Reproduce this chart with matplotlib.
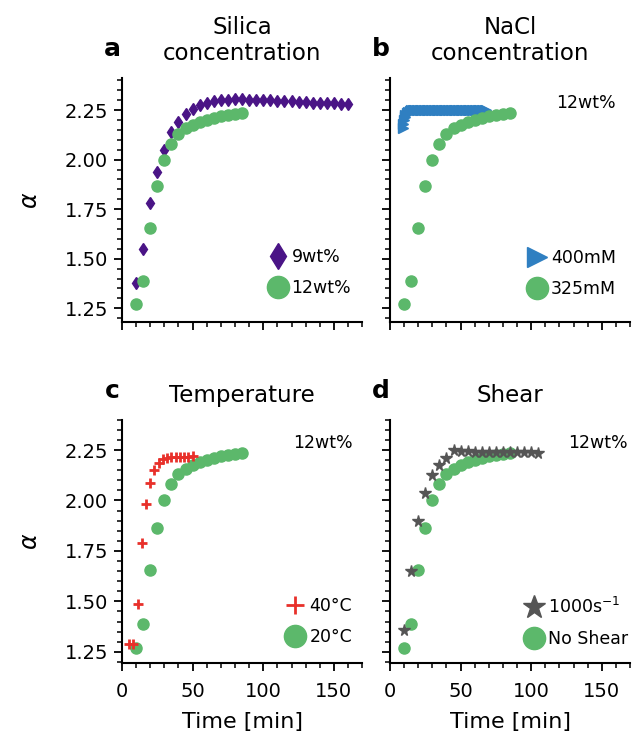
import matplotlib.pyplot as plt
from matplotlib.ticker import MultipleLocator

# reference sample: 12wt% silica, 325mM NaCl, 20°C, no shear
t_ref = [10, 15, 20, 25, 30, 35, 40, 45, 50, 55, 60, 65, 70, 75, 80, 85]
a_ref = [1.27, 1.39, 1.655, 1.865, 2.0, 2.08, 2.13, 2.158, 2.176, 2.19,
         2.201, 2.21, 2.218, 2.224, 2.229, 2.233]

# silica 9wt%
t_9wt = [10, 15, 20, 25, 30, 35, 40, 45, 50, 55, 60, 65, 70, 75, 80, 85, 90,
         95, 100, 105, 110, 115, 120, 125, 130, 135, 140, 145, 150, 155, 160]
a_9wt = [1.38, 1.55, 1.78, 1.94, 2.05, 2.14, 2.19, 2.23, 2.255, 2.275, 2.288,
         2.295, 2.30, 2.303, 2.304, 2.304, 2.303, 2.302, 2.30, 2.299, 2.297,
         2.295, 2.294, 2.292, 2.29, 2.288, 2.287, 2.285, 2.284, 2.282, 2.28]

# NaCl 400mM
t_400 = [9, 9.5, 10, 10.5, 11, 12, 13, 14, 15, 16, 17, 18, 19, 20, 21, 22,
         23, 24, 25, 26, 27, 28, 29, 30, 31, 32, 33, 34, 35, 36, 37, 38, 39,
         40, 41, 42, 43, 44, 45, 46, 47, 48, 49, 50, 51, 52, 53, 54, 55, 56,
         57, 58, 59, 60, 61, 62, 63, 64, 65, 66, 67, 68]
a_400 = [2.16, 2.18, 2.20, 2.215, 2.225, 2.235, 2.242, 2.246, 2.248, 2.249,
         2.249, 2.25, 2.25, 2.25, 2.25, 2.25, 2.25, 2.25, 2.25, 2.25, 2.25,
         2.25, 2.25, 2.25, 2.25, 2.25, 2.25, 2.25, 2.25, 2.25, 2.25, 2.25,
         2.25, 2.25, 2.25, 2.25, 2.25, 2.25, 2.25, 2.25, 2.25, 2.25, 2.25,
         2.25, 2.25, 2.25, 2.25, 2.25, 2.25, 2.25, 2.25, 2.25, 2.25, 2.25,
         2.25, 2.25, 2.25, 2.25, 2.25, 2.25, 2.25, 2.25]

# 40°C
t_40c = [5, 8, 11, 14, 17, 20, 23, 26, 29, 32, 35, 38, 41, 44, 47, 50]
a_40c = [1.29, 1.29, 1.485, 1.787, 1.98, 2.088, 2.15, 2.187, 2.204, 2.21,
         2.213, 2.215, 2.216, 2.217, 2.217, 2.218]

# shear 1000 s^-1
t_shear = [10, 15, 20, 25, 30, 35, 40, 45, 50, 55, 60, 65, 70, 75, 80, 85,
           90, 95, 100, 105]
a_shear = [1.357, 1.648, 1.90, 2.036, 2.125, 2.175, 2.21, 2.248, 2.244,
           2.243, 2.242, 2.241, 2.241, 2.240, 2.240, 2.239, 2.239, 2.238,
           2.238, 2.237]

green = '#5cb86b'
fs_tick = 14
fs_leg = 12.5

fig = plt.figure(figsize=(6.32, 7.39), dpi=100)
ax_a = fig.add_axes([0.193, 0.564, 0.380, 0.330])
ax_b = fig.add_axes([0.617, 0.564, 0.380, 0.330])
ax_c = fig.add_axes([0.193, 0.103, 0.380, 0.329])
ax_d = fig.add_axes([0.617, 0.103, 0.380, 0.329])

# a - silica
ax_a.plot(t_9wt, a_9wt, 'd', color='#4a1486', ms=6.5, label='9wt%')
ax_a.plot(t_ref, a_ref, 'o', color=green, ms=8, label='12wt%')

# b - NaCl
ax_b.plot(t_400, a_400, '>', color='#2f7fc1', ms=7.5, label='400mM')
ax_b.plot(t_ref, a_ref, 'o', color=green, ms=8, label='325mM')

# c - temperature
ax_c.plot(t_40c, a_40c, '+', color='#e8302a', ms=6.5, mew=2, label='40°C', zorder=3)
ax_c.plot(t_ref, a_ref, 'o', color=green, ms=8, label='20°C', zorder=2)

# d - shear
ax_d.plot(t_shear, a_shear, '*', color='#555555', ms=8.5, label='1000s$^{-1}$', zorder=3)
ax_d.plot(t_ref, a_ref, 'o', color=green, ms=8, label='No Shear', zorder=2)

titles = ['Silica\nconcentration', 'NaCl\nconcentration', 'Temperature', 'Shear']
letters = ['a', 'b', 'c', 'd']
# legend anchors (lower right corner, axes fraction)
leg_pos = [(0.976, 0.080), (0.963, 0.076), (0.98, 0.049), (1.013, 0.041)]
for i, ax in enumerate([ax_a, ax_b, ax_c, ax_d]):
    ax.set_xlim(0, 170)
    if i < 2:
        ax.set_ylim(1.18, 2.41)
    else:
        ax.set_ylim(1.195, 2.40)
    ax.xaxis.set_major_locator(MultipleLocator(50))
    ax.xaxis.set_minor_locator(MultipleLocator(10))
    ax.yaxis.set_major_locator(MultipleLocator(0.25))
    ax.yaxis.set_minor_locator(MultipleLocator(0.05))
    ax.spines['top'].set_visible(False)
    ax.spines['right'].set_visible(False)
    ax.spines['left'].set_linewidth(1.5)
    ax.spines['bottom'].set_linewidth(1.5)
    ax.tick_params(which='major', length=6, width=1.3, labelsize=fs_tick)
    ax.tick_params(which='minor', length=3.5, width=1.1)
    ax.tick_params(axis='x', which='major', pad=8)
    ax.tick_params(axis='y', which='major', pad=4)
    ax.set_title(titles[i], fontsize=16.5, pad=13)
    ax.text(-0.04, 1.12, letters[i], transform=ax.transAxes, ha='center',
            va='center', fontsize=18, fontweight='bold')
    if i % 2 == 0:
        ax.set_ylabel(r'$\alpha$', fontsize=17, labelpad=16)
    else:
        ax.tick_params(axis='y', labelleft=False)
    if i < 2:
        ax.tick_params(axis='x', labelbottom=False)
    else:
        ax.set_xlabel('Time [min]', fontsize=16, labelpad=8)
    ax.legend(loc='lower right', bbox_to_anchor=leg_pos[i], frameon=False,
              markerscale=2, fontsize=fs_leg, handletextpad=0.3,
              handlelength=1.0, borderaxespad=0, labelspacing=0.75,
              borderpad=0.3)

ax_b.text(0.94, 0.90, '12wt%', transform=ax_b.transAxes, ha='right', va='center', fontsize=fs_leg)
ax_c.text(0.96, 0.905, '12wt%', transform=ax_c.transAxes, ha='right', va='center', fontsize=fs_leg)
ax_d.text(0.99, 0.905, '12wt%', transform=ax_d.transAxes, ha='right', va='center', fontsize=fs_leg)

plt.savefig('out.png', dpi=100)
